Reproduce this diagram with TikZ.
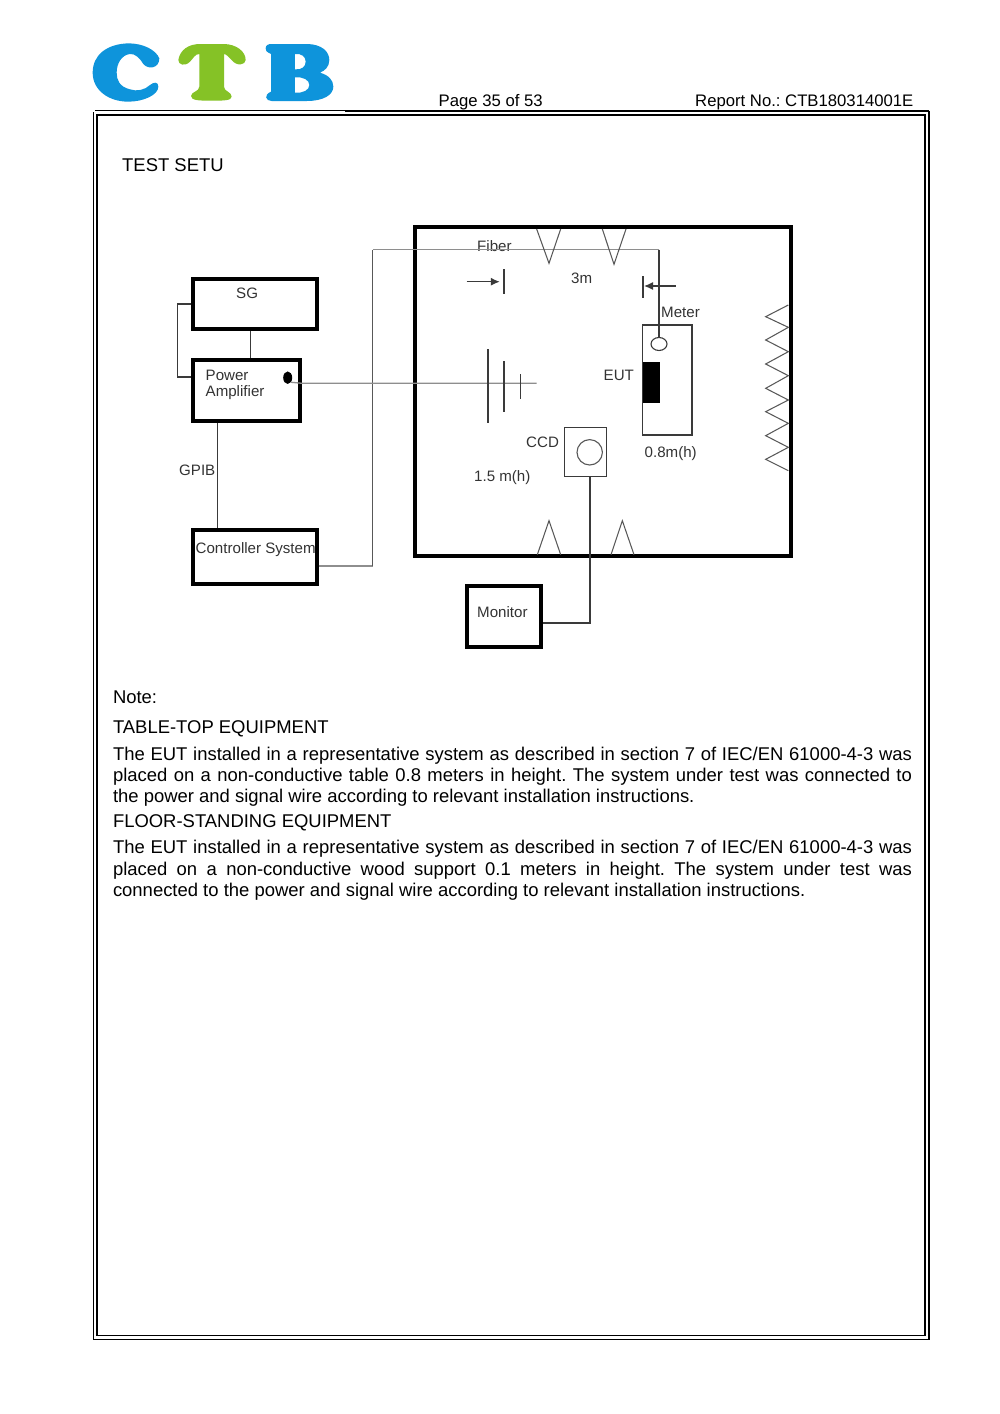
\documentclass[tikz,border=0pt]{standalone}
\usepackage{fontspec}
\usetikzlibrary{shapes.geometric,arrows.meta}
\setmainfont{Liberation Sans}
\frenchspacing
\definecolor{ctbblue}{HTML}{0E94DB}
\definecolor{ctbgreen}{HTML}{85C226}
\definecolor{wire}{HTML}{3A3A3A}
\definecolor{fib}{HTML}{8E8E8E}
\definecolor{lab}{HTML}{333333}
\tikzset{
 heavybox/.style={draw=black,line width=4pt,fill=none,inner sep=0pt},
 thinbox/.style={draw=wire,line width=1.3pt,fill=none,inner sep=0pt},
 wireline/.style={draw=wire,line width=1.3pt},
 fibline/.style={draw=fib,line width=1.3pt},
 absorber/.style={draw=wire!85,line width=1.05pt},
 labeltext/.style={text=lab,font=\fontsize{15.1}{18}\selectfont,inner sep=0pt,anchor=base west},
 headtext/.style={text=black,font=\fontsize{16.7}{20}\selectfont,inner sep=0pt,anchor=base west},
 bodytext/.style={text=black,font=\fontsize{18.45}{22}\selectfont,inner sep=0pt,anchor=base west},
 frameline/.style={draw=black,line width=1.6pt},
}
\newcommand{\fullline}[1]{\makebox[799pt][s]{#1}}
\begin{document}
\begin{tikzpicture}[x=1pt,y=-1pt]
\useasboundingbox (0,0) rectangle (1000,1414);
\fill[white] (0,0) rectangle (1000,1414);
% logo
\begin{scope}[shift={(80,30)},x=0.33333pt,y=-0.33333pt]
\fill[ctbblue] (238,85) .. controls (228,60) and (190,40) .. (145,40)
 .. controls (80,42) and (38,75) .. (38,128)
 .. controls (38,180) and (85,215) .. (145,215)
 .. controls (190,215) and (235,195) .. (235,170)
 .. controls (235,155) and (222,155) .. (210,165)
 .. controls (195,180) and (170,185) .. (150,178)
 .. controls (118,170) and (110,150) .. (110,128)
 .. controls (110,100) and (125,75) .. (150,72)
 .. controls (165,70) and (180,85) .. (190,102)
 .. controls (205,120) and (238,115) .. (238,85) -- cycle;
\fill[ctbgreen] (295,90) .. controls (300,60) and (325,42) .. (360,42)
 -- (430,42) .. controls (470,42) and (497,65) .. (497,90)
 .. controls (497,105) and (470,110) .. (455,90)
 .. controls (445,80) and (438,72) .. (432,72)
 -- (432,170) .. controls (432,185) and (455,185) .. (455,200)
 .. controls (455,212) and (430,212) .. (395,212)
 .. controls (360,212) and (333,212) .. (333,198)
 .. controls (333,185) and (358,185) .. (358,170)
 -- (358,72) .. controls (345,72) and (340,85) .. (330,95)
 .. controls (315,110) and (295,105) .. (295,90) -- cycle;
\fill[ctbblue,even odd rule] (557,55) .. controls (557,45) and (565,42) .. (575,42)
 -- (680,42) .. controls (725,42) and (748,65) .. (748,90)
 .. controls (748,110) and (735,122) .. (720,128)
 .. controls (745,135) and (760,150) .. (760,170)
 .. controls (760,195) and (730,213) .. (680,213)
 -- (575,213) .. controls (557,213) and (550,195) .. (573,185)
 -- (573,72) .. controls (557,65) and (557,60) .. (557,55) -- cycle
 (645,72) .. controls (665,70) and (677,80) .. (677,95)
 .. controls (677,110) and (665,120) .. (645,118) -- cycle
 (645,142) .. controls (670,140) and (688,150) .. (688,165)
 .. controls (688,180) and (670,190) .. (645,188) -- cycle;
\end{scope}
% header and frame
\node[headtext] (pagetxt) at (438.5,106) {Page 35 of 53};
\node[headtext] (reporttxt) at (695,106) {Report No.: CTB180314001E};
\draw[draw=black,line width=1.2pt] (95,110.3) -- (345,110.3);
\draw[draw=black,line width=2.2pt] (345,110.6) -- (929,110.6);
\draw[frameline] (929,110.6) -- (929,1339.5) -- (93.5,1339.5) -- (93.5,112);
\draw[draw=black,line width=1.3pt] (97,115) rectangle (925,1335.5);
% texts
\node[bodytext] (title) at (122,171) {TEST SETU};
\node[bodytext] (n0) at (112.8,703.4) {Note:};
\node[bodytext] (n1) at (112.8,733.4) {TABLE-TOP EQUIPMENT};
\node[bodytext] (n2) at (112.8,760.4) {\fullline{The EUT installed in a representative system as described in section 7 of IEC/EN 61000-4-3 was}};
\node[bodytext] (n3) at (112.8,781.6) {\fullline{placed on a non-conductive table 0.8 meters in height. The system under test was connected to}};
\node[bodytext] (n4) at (112.8,802.6) {the power and signal wire according to relevant installation instructions.};
\node[bodytext] (n5) at (112.8,827.6) {FLOOR-STANDING EQUIPMENT};
\node[bodytext] (n6) at (112.8,853.6) {\fullline{The EUT installed in a representative system as described in section 7 of IEC/EN 61000-4-3 was}};
\node[bodytext] (n7) at (112.8,875) {\fullline{placed on a non-conductive wood support 0.1 meters in height. The system under test was}};
\node[bodytext] (n8) at (112.8,896.6) {connected to the power and signal wire according to relevant installation instructions.};
% boxes
\node[heavybox,minimum width=123.4pt,minimum height=49.7pt] (sg) at (255,304.2) {};
\node[heavybox,minimum width=106.7pt,minimum height=61pt] (pa) at (246.7,390.5) {};
\node[heavybox,minimum width=123.4pt,minimum height=54.3pt] (cs) at (255,557.2) {};
\node[heavybox,minimum width=73.5pt,minimum height=61pt] (mon) at (503.8,616.7) {};
\node[heavybox,minimum width=375.8pt,minimum height=329pt] (chamber) at (603,391.5) {};
\node[thinbox,minimum width=49.3pt,minimum height=110pt] (tbl) at (667.3,380) {};
\node[thinbox,minimum width=41.6pt,minimum height=49pt] (ccd) at (585.5,452.2) {};
\node[draw=wire!85,line width=1.1pt,circle,minimum size=25.4pt,inner sep=0pt] (lens) at (589.7,452.3) {};
\node[draw=wire,line width=1.1pt,ellipse,minimum width=16pt,minimum height=13pt,inner sep=0pt] (meter) at (659,344) {};
\node[fill=black,minimum width=16.7pt,minimum height=41pt,inner sep=0pt] (eut) at (651.3,382.2) {};
\node[fill=black,ellipse,minimum width=9pt,minimum height=12.5pt,inner sep=0pt] (dot) at (287.7,377.7) {};
% labels
\node[labeltext] (lsg) at (236,298) {SG};
\node[labeltext] (lp1) at (205.5,380) {Power};
\node[labeltext] (lp2) at (205.5,396) {Amplifier};
\node[labeltext] (lgp) at (179,475) {GPIB};
\node[labeltext] (lcs) at (195.5,553.5) {Controller System};
\node[labeltext] (lmo) at (477,617.5) {Monitor};
\node[labeltext] (lfi) at (477,251.5) {Fiber};
\node[labeltext] (l3m) at (571,283) {3m};
\node[labeltext] (lme) at (661,317) {Meter};
\node[labeltext] (leu) at (603.5,380.5) {EUT};
\node[labeltext] (lcc) at (526,447) {CCD};
\node[labeltext] (l08) at (644.5,457) {0.8m(h)};
\node[labeltext] (l15) at (474,481.5) {1.5 m(h)};
% connectors
\coordinate (fibcorner) at (372.7,566);
\coordinate (fibtop) at (372.7,249.5);
\coordinate (fibend) at (659,249.5);
\coordinate (antend) at (536.7,383.3);
\draw[wireline] (sg.south -| 250.3,0) -- (pa.north -| 250.3,0);
\draw[wireline,line width=1.1pt] (sg.west |- 0,304) -- (177.3,304) -- (177.3,377) -- (pa.west |- 0,377);
\draw[wireline] (pa.south -| 217.7,0) -- (cs.north -| 217.7,0);
\draw[fibline] (cs.east |- fibcorner) -- (fibcorner);
\draw[wireline,draw=wire!85] (fibcorner) -- (fibtop);
\draw[fibline] (fibtop) -- (fibend);
\draw[wireline] (fibend) -- (meter.north);
\draw[fibline] (dot.south east) -- (pa.east |- antend) -- (antend);
\draw[wireline] (ccd.south -| 590,0) -- (590,623) -- (mon.east |- 0,623);
% antenna bars
\draw[wireline] (488,349.3) -- (488,423.3);
\draw[wireline] (504,361) -- (504,411.5);
\draw[wireline] (520.7,374) -- (520.7,399);
% dimension marks
\coordinate (al) at (466.7,281.7);
\coordinate (ar) at (499.8,281.7);
\coordinate (bl) at (644,286);
\coordinate (br) at (675.7,286);
\draw[wireline,-{Latex[length=9pt,width=8pt]}] (al) -- (ar);
\draw[wireline] (504,269) -- (504,294);
\draw[wireline,-{Latex[length=9pt,width=8pt]}] (br) -- (bl);
\draw[wireline] (643,276) -- (643,298);
% absorbers
\begin{scope}[shift={(400,210)},x=0.33333pt,y=-0.33333pt]
\draw[absorber] (410,57) -- (447,160) -- (482,57);
\draw[absorber] (607,57) -- (642,163) -- (678,57);
\draw[absorber] (412,1034) -- (447,932) -- (482,1034);
\draw[absorber] (633,1034) -- (667,932) -- (702,1034);
\draw[absorber] (1165,285) -- (1097,320) -- (1165,352) -- (1097,390) -- (1165,425) -- (1097,462) -- (1165,497) -- (1097,535) -- (1165,570) -- (1097,605) -- (1165,640) -- (1097,677) -- (1165,712) -- (1097,748) -- (1165,782);
\end{scope}
\end{tikzpicture}
\end{document}
